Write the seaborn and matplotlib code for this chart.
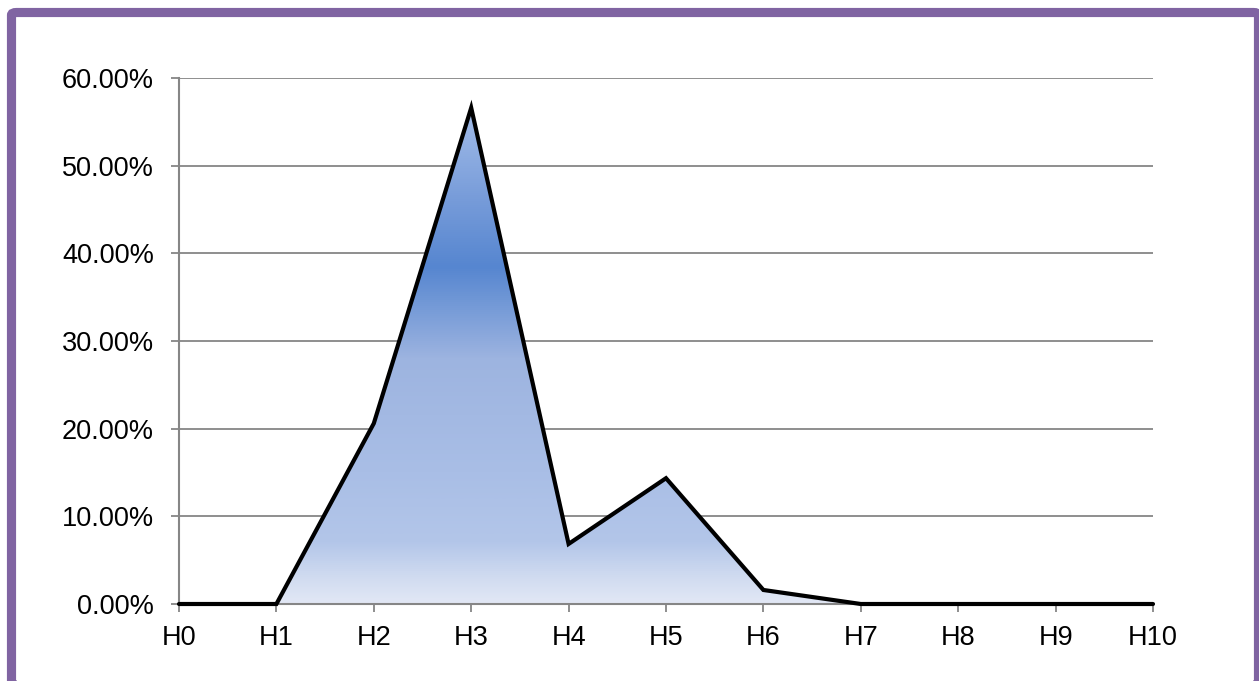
import numpy as np
import pandas as pd
import seaborn as sns
import matplotlib
matplotlib.use("Agg")
import matplotlib.pyplot as plt
from matplotlib.colors import LinearSegmentedColormap
from matplotlib.patches import Polygon, FancyBboxPatch
from matplotlib.ticker import FuncFormatter

# Share of items per level
categories = ["H0", "H1", "H2", "H3", "H4", "H5", "H6", "H7", "H8", "H9", "H10"]
shares = [0.0, 0.0, 0.206, 0.566, 0.0685, 0.1435, 0.016, 0.0, 0.0, 0.0, 0.0]
y_ticks = [0.0, 0.1, 0.2, 0.3, 0.4, 0.5, 0.6]

df = pd.DataFrame({"level": categories, "share": shares})
df["pos"] = np.arange(len(categories))

sns.set_theme(style="white")
plt.rcParams["font.family"] = ["Liberation Sans", "DejaVu Sans"]

W, H = 1259, 681
fig = plt.figure(figsize=(W / 100, H / 100), dpi=100)
fig.patch.set_facecolor("white")

# Purple frame around the chart
frame = FancyBboxPatch((11.5 / W, -4 / H), (1258.5 - 11.5) / W, (H - 12.5 + 4) / H,
                       boxstyle="round,pad=0,rounding_size=0.004",
                       transform=fig.transFigure, facecolor="none",
                       edgecolor="#8064A2", linewidth=6.6, zorder=0)
fig.patches.append(frame)

ax = fig.add_axes([179 / W, (H - 604) / H, (1153 - 179) / W, (604 - 78) / H])
ax.set_facecolor("none")

grid_col = "#868686"
for yv in y_ticks[1:]:
    ax.axhline(yv, color=grid_col, linewidth=1.3, zorder=1)

# Gradient fill under the curve
stops = [(0.0, "#e2e8f5"), (0.03 / 0.6, "#d0dbf0"), (0.07 / 0.6, "#b3c6e9"),
         (0.15 / 0.6, "#a9bee6"), (0.28 / 0.6, "#9db4e0"), (0.385 / 0.6, "#5686d0"),
         (0.46 / 0.6, "#769bd9"), (1.0, "#b2c8ee")]
cmap = LinearSegmentedColormap.from_list("fillgrad", stops)
grad = np.linspace(0, 1, 512).reshape(-1, 1)
img = ax.imshow(grad, cmap=cmap, origin="lower", aspect="auto",
                extent=[0, len(categories) - 1, 0, 0.6], zorder=2)
verts = list(zip(df["pos"], df["share"])) + [(len(categories) - 1, 0), (0, 0)]
clip = Polygon(verts, closed=True, transform=ax.transData, facecolor="none", edgecolor="none")
ax.add_patch(clip)
img.set_clip_path(clip)

sns.lineplot(data=df, x="pos", y="share", ax=ax, color="black", linewidth=3.0,
             zorder=4, solid_joinstyle="miter")
ax.lines[-1].set_clip_on(False)

ax.set_xlim(0, len(categories) - 1)
ax.set_ylim(0, 0.6)
ax.set_xticks(df["pos"])
ax.set_xticklabels(categories)
ax.set_yticks(y_ticks)
ax.yaxis.set_major_formatter(FuncFormatter(lambda v, _: f"{v * 100:.2f}%"))
ax.set_xlabel("")
ax.set_ylabel("")

for side in ["top", "right"]:
    ax.spines[side].set_visible(False)
for side in ["left", "bottom"]:
    ax.spines[side].set_color(grid_col)
    ax.spines[side].set_linewidth(1.5)
    ax.spines[side].set_zorder(3)

ax.tick_params(axis="both", which="major", length=6, width=1.3, color=grid_col,
               labelsize=19.5, labelcolor="black", direction="out")
ax.tick_params(axis="x", pad=9, bottom=True)
ax.tick_params(axis="y", pad=12, left=True)

fig.savefig("out.png", dpi=100)
